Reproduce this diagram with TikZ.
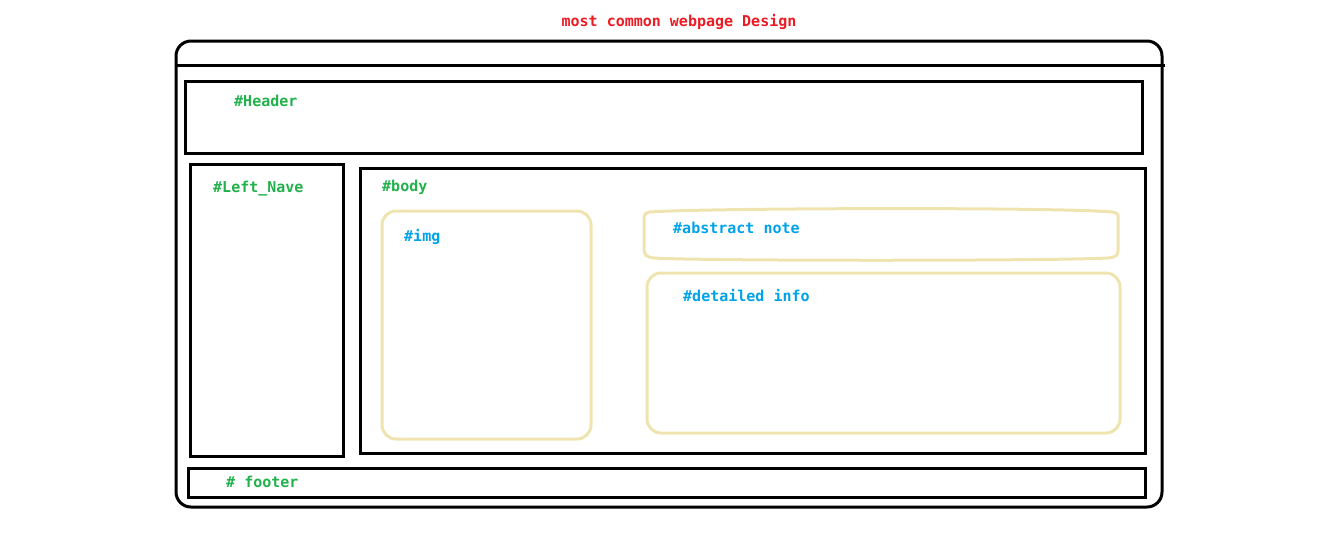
\documentclass[tikz,border=0pt]{standalone}
\usepackage{fontspec}
\setmonofont{DejaVu Sans Mono}
\definecolor{pred}{RGB}{237,28,36}
\definecolor{pgreen}{RGB}{34,177,76}
\definecolor{pblue}{RGB}{0,162,232}
\definecolor{pyellow}{RGB}{239,228,176}
\begin{document}
\begin{tikzpicture}[x=1pt,y=-1pt,
  blk/.style={draw=black,line width=3pt},
  ybox/.style={draw=pyellow,line width=3pt,rounded corners=14pt},
  lbl/.style={anchor=west,inner sep=0pt,font=\ttfamily\bfseries\fontsize{15}{17}\selectfont},
  glbl/.style={lbl,text=pgreen},
  blbl/.style={lbl,text=pblue}]
\useasboundingbox (0,0) rectangle (1331,547);
\node[lbl,anchor=center,text=pred] (title) at (679,22) {most common webpage Design};
\draw[blk,rounded corners=15pt] (176,41) rectangle (1162,507);
\coordinate (barL) at (175,65);
\coordinate (barR) at (1165,65);
\draw[blk] (barL) -- (barR);
\draw[blk] (185,81) rectangle (1142,153);
\node[glbl] (header) at (234,101) {\#Header};
\draw[blk] (190,164) rectangle (343,456);
\node[glbl] (nav) at (213,189) {\#Left\_Nave};
\draw[blk] (360,168) rectangle (1145,453);
\node[glbl] (body) at (382,187) {\#body};
\draw[ybox] (382,211) rectangle (591,439);
\node[blbl] (img) at (404,237) {\#img};
\draw[pyellow,line width=3pt] (650,212) .. controls (700,208) and (1060,207) .. (1112,212)
  .. controls (1120,213) and (1118,216) .. (1118,222) -- (1118,250)
  .. controls (1118,256) and (1116,257) .. (1108,258)
  .. controls (1050,261) and (700,261) .. (654,258)
  .. controls (645,257) and (644,254) .. (644,248) -- (644,220)
  .. controls (644,214) and (645,213) .. (650,212) -- cycle;
\node[blbl] (abs) at (673,228) {\#abstract note};
\draw[ybox] (647,273) rectangle (1120,433);
\node[blbl] (det) at (683,296) {\#detailed info};
\draw[blk] (188,468) rectangle (1145,497);
\node[glbl] (footer) at (226,482) {\# footer};
\end{tikzpicture}
\end{document}
